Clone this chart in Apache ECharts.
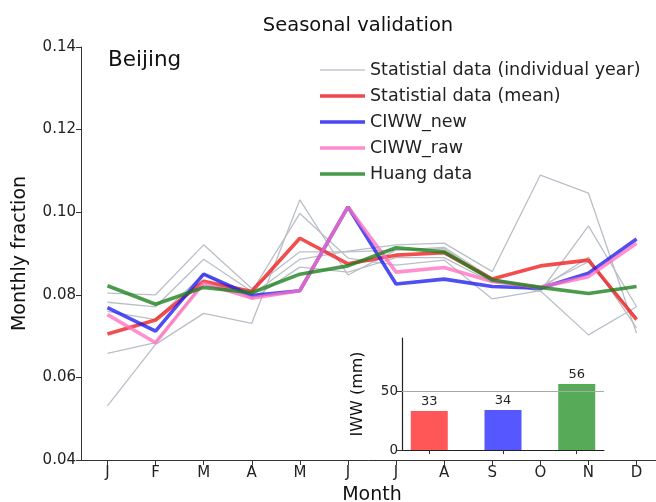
<!DOCTYPE html>
<html><head><meta charset="utf-8">
<script src="https://cdn.jsdelivr.net/npm/echarts@6/dist/echarts.min.js"></script>
<style>html,body{margin:0;padding:0;background:#fff}#c{width:656px;height:502px}</style>
</head><body><div id="c"></div>
<script>
// ---- data ----
const months = ['J','F','M','A','M','J','J','A','S','O','N','D'];
const yTicks = [0.04, 0.06, 0.08, 0.10, 0.12, 0.14];
const statYear1 = [0.0531, 0.0680, 0.0755, 0.0731, 0.1030, 0.0848, 0.0908, 0.0912, 0.0835, 0.0808, 0.0967, 0.0771];
const statYear2 = [0.0658, 0.0684, 0.0830, 0.0800, 0.0886, 0.0906, 0.0921, 0.0925, 0.0856, 0.1090, 0.1046, 0.0707];
const statYear3 = [0.0782, 0.0771, 0.0886, 0.0808, 0.0997, 0.0889, 0.0872, 0.0884, 0.0790, 0.0810, 0.0703, 0.0771];
const statYear4 = [0.0804, 0.0800, 0.0921, 0.0815, 0.0904, 0.0904, 0.0908, 0.0915, 0.0840, 0.0815, 0.0891, 0.0720];
const statYear5 = [0.0760, 0.0740, 0.0850, 0.0790, 0.0867, 0.0855, 0.0890, 0.0890, 0.0830, 0.0820, 0.0880, 0.0745];
const statMean  = [0.0705, 0.0739, 0.0833, 0.0808, 0.0937, 0.0875, 0.0896, 0.0902, 0.0838, 0.0870, 0.0884, 0.0740];
const ciwwNew   = [0.0769, 0.0712, 0.0850, 0.0798, 0.0810, 0.1013, 0.0826, 0.0838, 0.0820, 0.0816, 0.0852, 0.0935];
const ciwwRaw   = [0.0752, 0.0684, 0.0828, 0.0792, 0.0810, 0.1013, 0.0855, 0.0866, 0.0832, 0.0818, 0.0844, 0.0925];
const huang     = [0.0822, 0.0777, 0.0818, 0.0805, 0.0850, 0.0870, 0.0914, 0.0904, 0.0836, 0.0818, 0.0803, 0.0820];
const iwwValues = [33, 34, 56];
const iwwTicks  = [0, 50];
const legendNames = ['Statistial data (individual year)', 'Statistial data (mean)', 'CIWW_new', 'CIWW_raw', 'Huang data'];

// ---- chart ----
const FONT = 'DejaVu Sans';
const pairs = arr => arr.map((v, i) => [i, v]);
const monthIdx = months.map((m, i) => i);
const chart = echarts.init(document.getElementById('c'), null, {renderer: 'canvas'});

const GRAY = '#babfc7';
const grays = [statYear1, statYear2, statYear3, statYear4, statYear5].map(arr => ({
  type: 'line', name: legendNames[0], data: pairs(arr), xAxisIndex: 0, yAxisIndex: 0,
  symbol: 'none', lineStyle: {color: GRAY, width: 1.3}, itemStyle: {color: GRAY}, z: 2
}));
const lineColors = ['#ee1c1c', '#1c1cee', '#ff6fc0', '#1a7f1a'];
function colored(name, arr, color, z) {
  return {type: 'line', name, data: pairs(arr), xAxisIndex: 0, yAxisIndex: 0, symbol: 'none',
    lineStyle: {color, width: 3.6, opacity: 0.78}, itemStyle: {color}, z};
}
const barColors = ['#ff5757', '#5757ff', '#57aa57'];
const thinIcon = 'path://M0,0L0.01,0L0,0.01Z M0,1.05L46,1.05L46,2.45L0,2.45Z M0,3.5L0.01,3.5L0,3.49Z';
const thickIcon = 'path://M0,0L46,0L46,3.5L0,3.5Z';

chart.setOption({
  animation: false,
  textStyle: {fontFamily: FONT},
  title: {text: 'Seasonal validation', left: 358, top: 16, padding: 0, textAlign: 'center',
    textStyle: {fontFamily: FONT, fontSize: 19.5, fontWeight: 'normal', color: '#111'}},
  graphic: [{type: 'text', left: 108, top: 49, style: {text: 'Beijing', font: '21.5px "DejaVu Sans"', fill: '#111'}}],
  legend: {
    orient: 'vertical', left: 320, top: 60, padding: 0, itemWidth: 45, itemHeight: 3.5, itemGap: 6,
    symbolKeepAspect: false, selectedMode: false,
    data: legendNames.map((n, i) => ({
      name: n, icon: i === 0 ? thinIcon : thickIcon,
      itemStyle: {color: i === 0 ? '#c3c8d0' : lineColors[i - 1], opacity: i === 0 ? 1 : 0.8}
    })),
    textStyle: {fontFamily: FONT, fontSize: 17.5, color: '#222', lineHeight: 20}
  },
  grid: [
    {left: 81, top: 47, width: 582, height: 413, outerBoundsMode: 'none', containLabel: false},
    {left: 402, top: 338, width: 202, height: 112, outerBoundsMode: 'none', containLabel: false}
  ],
  xAxis: [
    {type: 'value', gridIndex: 0, min: -0.55, max: 11.55,
      name: 'Month', nameLocation: 'middle', nameGap: 26,
      nameTextStyle: {fontFamily: FONT, fontSize: 19, color: '#111', verticalAlign: 'top'},
      axisLine: {show: true, onZero: false, lineStyle: {color: '#333', width: 1}},
      axisTick: {show: true, length: 5, customValues: monthIdx, lineStyle: {color: '#333'}},
      axisLabel: {customValues: monthIdx, formatter: v => months[Math.round(v)], fontSize: 15, color: '#222', margin: 6, fontFamily: FONT},
      splitLine: {show: false}},
    {type: 'value', gridIndex: 1, min: -0.37, max: 2.37,
      axisLine: {show: true, onZero: false, lineStyle: {color: '#222', width: 1.2}},
      axisTick: {show: true, length: 4, customValues: [0, 1, 2], lineStyle: {color: '#333'}},
      axisLabel: {show: false}, splitLine: {show: false}}
  ],
  yAxis: [
    {type: 'value', gridIndex: 0, min: 0.04, max: 0.14, interval: 0.02,
      name: 'Monthly fraction', nameLocation: 'middle', nameGap: 51,
      nameTextStyle: {fontFamily: FONT, fontSize: 19, color: '#111'},
      axisLine: {show: true, onZero: false, lineStyle: {color: '#333', width: 1}},
      axisTick: {show: true, length: 5, lineStyle: {color: '#333'}},
      axisLabel: {customValues: yTicks, formatter: v => v.toFixed(2), fontSize: 15, color: '#222', margin: 5, fontFamily: FONT},
      splitLine: {show: false}},
    {type: 'value', gridIndex: 1, min: 0, max: 95,
      name: 'IWW (mm)', nameLocation: 'middle', nameGap: 36,
      nameTextStyle: {fontFamily: FONT, fontSize: 16, color: '#111'},
      axisLine: {show: true, onZero: false, lineStyle: {color: '#222', width: 1.2}},
      axisTick: {show: true, length: 5, customValues: iwwTicks, lineStyle: {color: '#333'}},
      axisLabel: {customValues: iwwTicks, fontSize: 13.5, color: '#222', margin: 4, fontFamily: FONT},
      splitLine: {show: false}}
  ],
  series: [
    ...grays,
    colored(legendNames[1], statMean, lineColors[0], 5),
    colored(legendNames[2], ciwwNew, lineColors[1], 6),
    colored(legendNames[3], ciwwRaw, lineColors[2], 7),
    colored(legendNames[4], huang, lineColors[3], 8),
    {type: 'bar', name: 'IWW', xAxisIndex: 1, yAxisIndex: 1, barWidth: 37,
      data: iwwValues.map((v, i) => ({value: [i, v], itemStyle: {color: barColors[i]}})),
      label: {show: true, position: 'top', distance: 3, fontSize: 13, color: '#222', fontFamily: FONT,
        formatter: p => p.value[1]},
      markLine: {silent: true, symbol: 'none', label: {show: false},
        lineStyle: {color: '#aaaaaa', width: 1, type: 'solid'}, data: [{yAxis: 50}]},
      z: 3}
  ]
});
</script></body></html>
